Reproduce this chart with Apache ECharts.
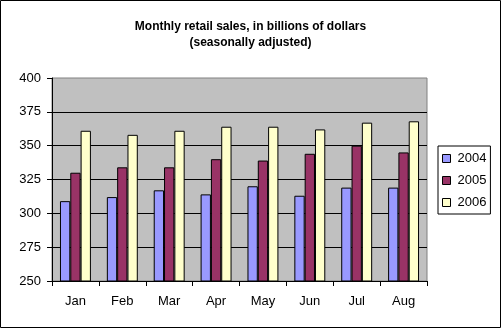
<!DOCTYPE html>
<html>
<head>
<meta charset="utf-8">
<script src="https://cdn.jsdelivr.net/npm/echarts@6/dist/echarts.min.js"></script>
<style>
html,body{margin:0;padding:0;background:#fff;}
#c{width:501px;height:328px;}
</style>
</head>
<body>
<div id="c"></div>
<script>
var months = ['Jan','Feb','Mar','Apr','May','Jun','Jul','Aug'];
var sales2004 = [309, 312, 317, 314, 320, 313, 319, 319];
var sales2005 = [330, 334, 334, 340, 339, 344, 350, 345];
var sales2006 = [361, 358, 361, 364, 364, 362, 367, 368];
var yMin = 250, yMax = 400, yStep = 25;

var font = 'Liberation Sans, Arial, sans-serif';
var chart = echarts.init(document.getElementById('c'), null, {renderer: 'canvas'});
function bar(name, data, color) {
  return {
    name: name, type: 'bar', data: data,
    barGap: '0%', barCategoryGap: '34%',
    itemStyle: {color: color, borderColor: '#000', borderWidth: 1},
    emphasis: {disabled: true}
  };
}
chart.setOption({
  animation: false,
  textStyle: {fontFamily: font},
  title: {
    text: 'Monthly retail sales, in billions of dollars\n(seasonally adjusted)',
    left: 'center', top: 14,
    textStyle: {fontFamily: font, fontSize: 12, fontWeight: 'bold', color: '#000', lineHeight: 16}
  },
  graphic: [{
    type: 'rect', z: 100, silent: true,
    shape: {x: 0.5, y: 0.5, width: 500, height: 327},
    style: {fill: 'none', stroke: '#000', lineWidth: 1}
  }],
  legend: {
    orient: 'vertical', left: 438, top: 146,
    padding: [6, 4, 5, 4], itemGap: 9,
    itemWidth: 8, itemHeight: 8,
    borderColor: '#000', borderWidth: 1,
    icon: 'rect',
    itemStyle: {borderColor: '#000', borderWidth: 1},
    textStyle: {fontFamily: font, fontSize: 13, color: '#000', lineHeight: 13, padding: [0, 0, 0, 2]},
    data: ['2004', '2005', '2006']
  },
  grid: {
    left: 52, right: 74, top: 78, bottom: 47,
    show: true, backgroundColor: '#C0C0C0', borderColor: '#808080', borderWidth: 1
  },
  xAxis: {
    type: 'category', data: months,
    axisLine: {lineStyle: {color: '#000', width: 1}},
    axisTick: {show: true, length: 5, lineStyle: {color: '#000'}},
    axisLabel: {color: '#000', fontSize: 13, fontFamily: font, margin: 14}
  },
  yAxis: {
    type: 'value', min: yMin, max: yMax, interval: yStep,
    axisLine: {show: true, lineStyle: {color: '#000', width: 1}},
    axisTick: {show: true, length: 5, lineStyle: {color: '#000'}},
    axisLabel: {color: '#000', fontSize: 13, fontFamily: font, margin: 11},
    splitLine: {show: true, showMaxLine: false, lineStyle: {color: '#000', width: 1}}
  },
  series: [
    bar('2004', sales2004, '#9999FF'),
    bar('2005', sales2005, '#993366'),
    bar('2006', sales2006, '#FFFFCC')
  ]
});
</script>
</body>
</html>
